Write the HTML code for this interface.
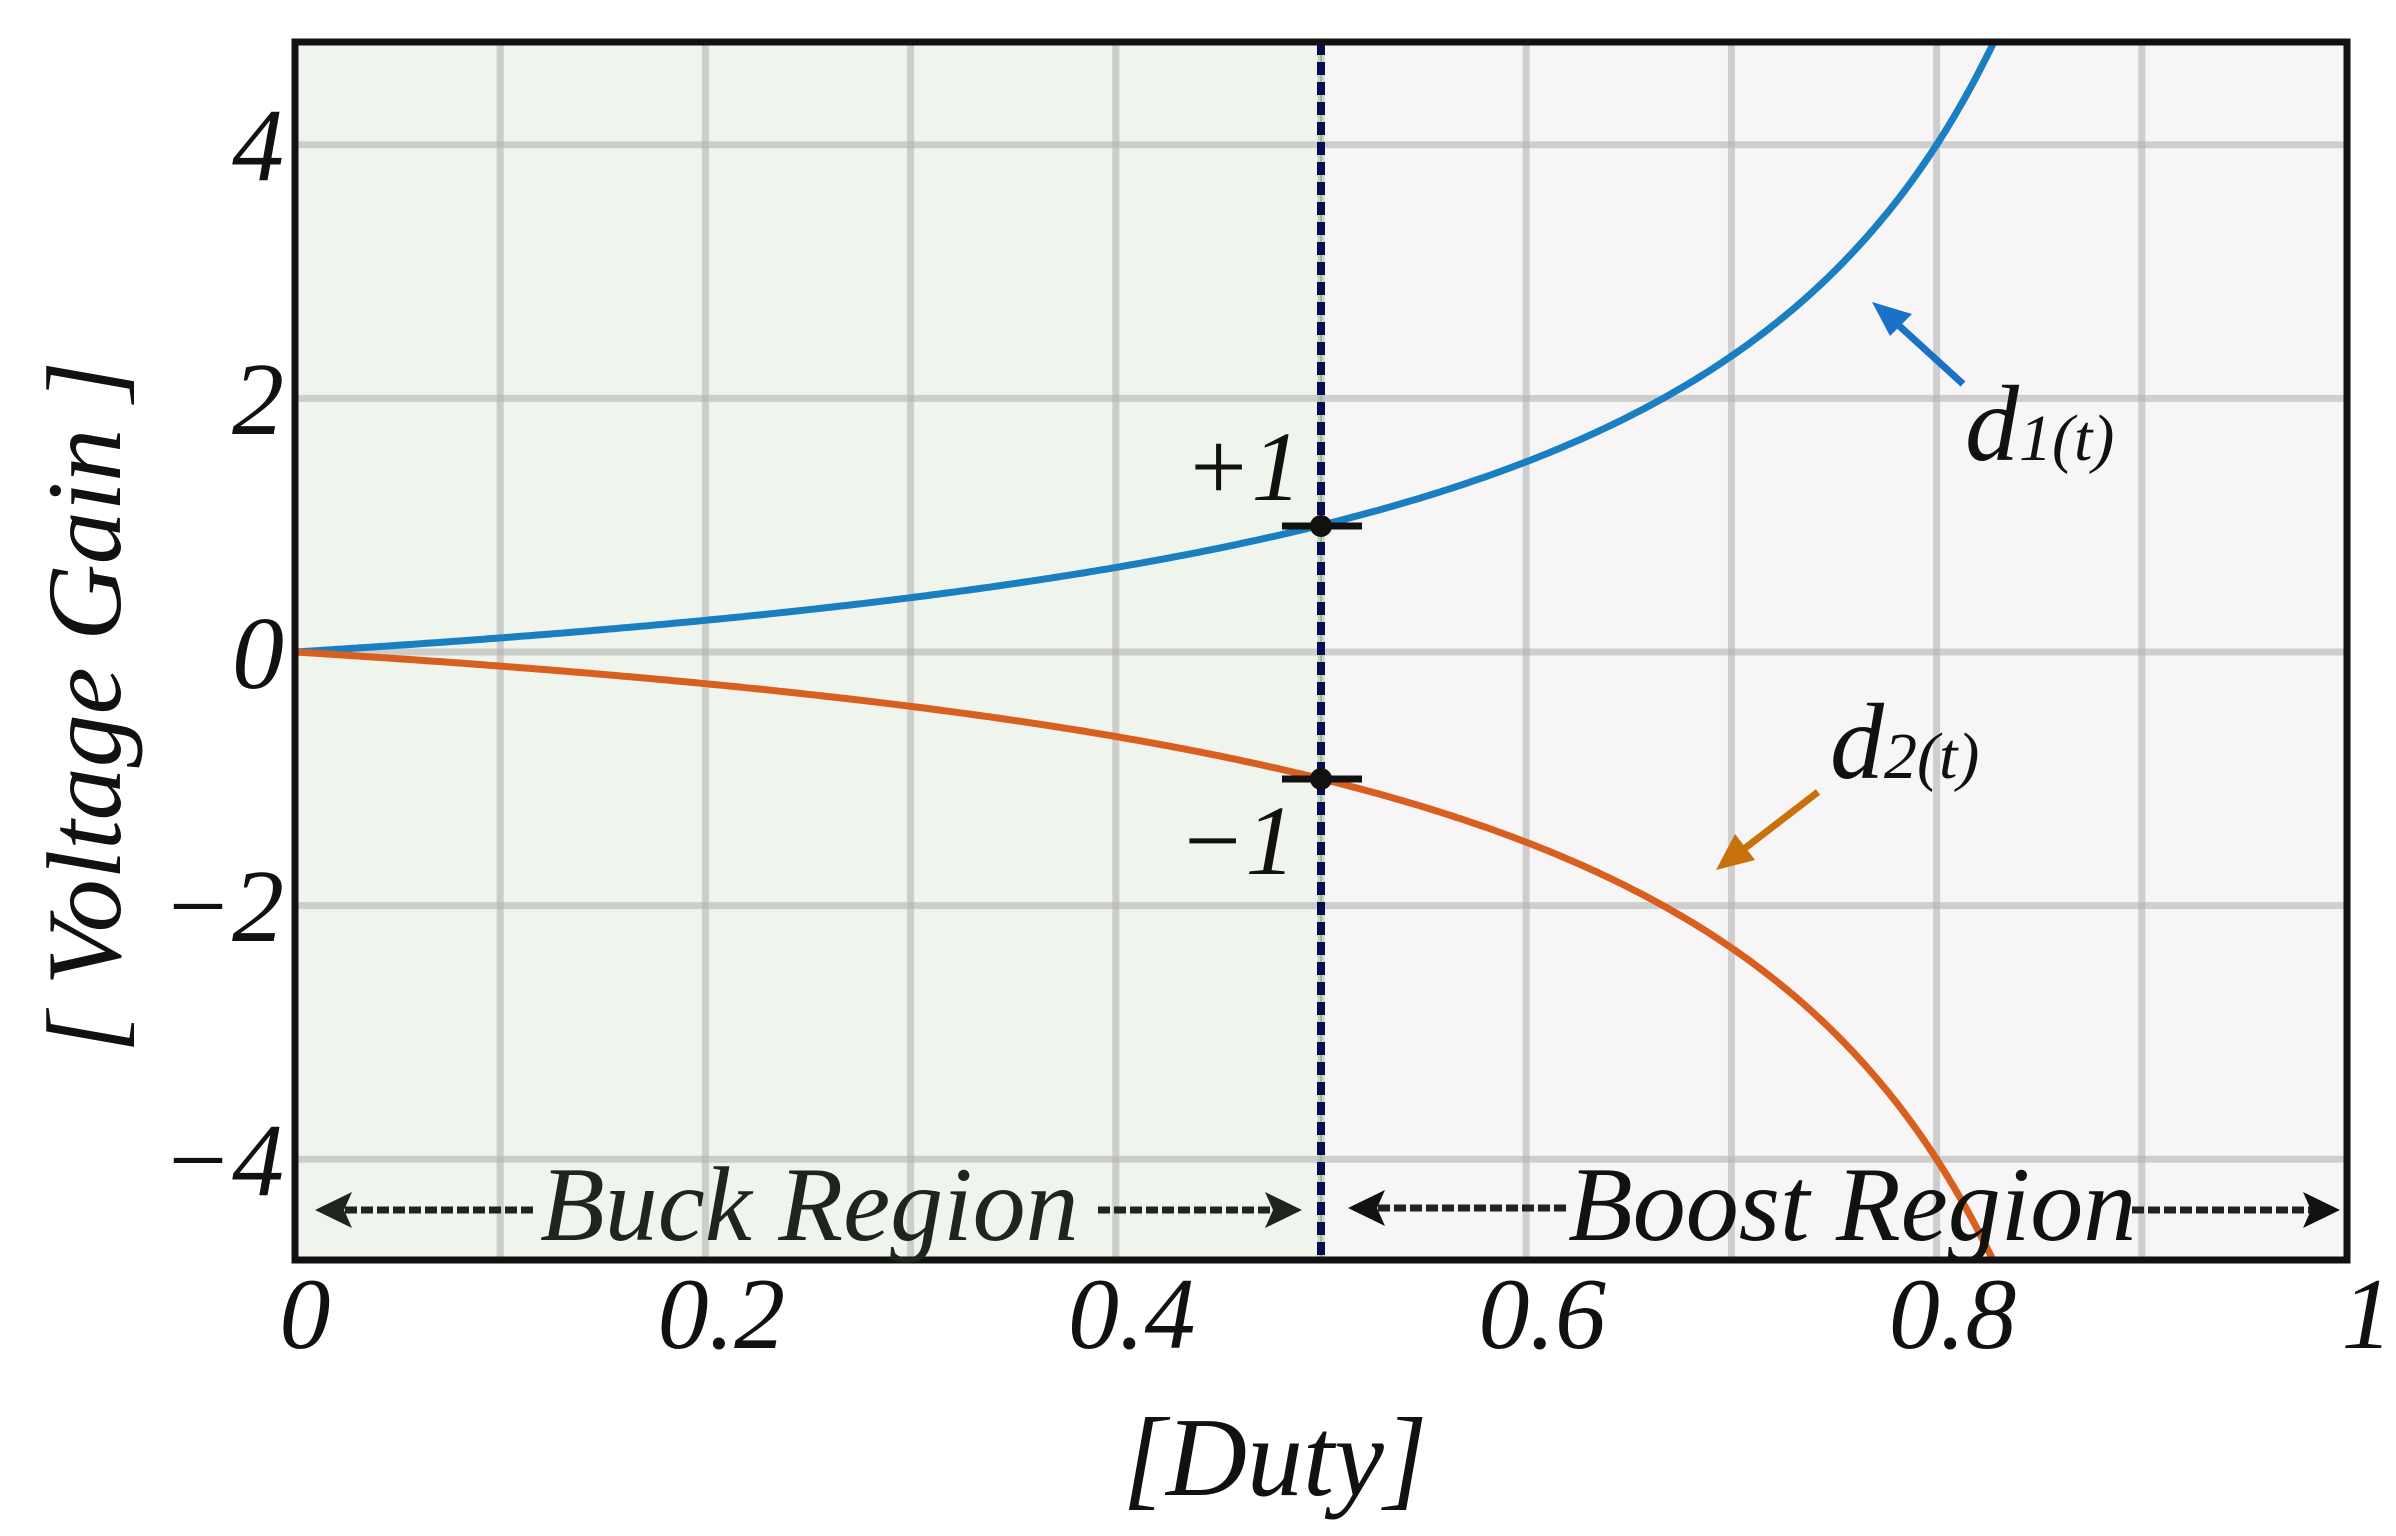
<!DOCTYPE html>
<html><head><meta charset="utf-8"><style>
html,body{margin:0;padding:0;background:#fff}
svg{display:block}
text{font-family:"Liberation Serif",serif;font-style:italic}
</style></head><body>
<svg id="s" width="2396" height="1536" viewBox="0 0 2396 1536" xmlns="http://www.w3.org/2000/svg">
<defs>
<clipPath id="c"><rect x="295" y="42" width="2052" height="1218"/></clipPath>
</defs>
<rect x="295" y="42" width="1026" height="1218" fill="#eff5ec"/>
<rect x="1321" y="42" width="1026" height="1218" fill="#f8f5f6"/>
<g id="grid" stroke="#b4b4b4" stroke-opacity="0.6" stroke-width="7"></g>
<g clip-path="url(#c)">
<path id="p1" fill="none" stroke="#1a7fc0" stroke-width="7"/>
<path id="p2" fill="none" stroke="#d95f20" stroke-width="7"/>
</g>
<line x1="1321" y1="42" x2="1321" y2="1260" stroke="#7fcf7f" stroke-width="2"/>
<line x1="1321" y1="42" x2="1321" y2="1260" stroke="#0b0b55" stroke-width="8" stroke-dasharray="13 7"/>
<rect x="295" y="42" width="2052" height="1218" fill="none" stroke="#111" stroke-width="7"/>
<line x1="1282" y1="526" x2="1362" y2="526" stroke="#111" stroke-width="7"/>
<line x1="1282" y1="779" x2="1362" y2="779" stroke="#111" stroke-width="7"/>
<circle cx="1321" cy="526" r="11" fill="#111"/>
<circle cx="1321" cy="779" r="11" fill="#111"/>
<text x="1184" y="500" font-size="100" fill="#111">+1</text>
<text x="1178" y="874" font-size="100" fill="#111">−1</text>
<text x="1965" y="460" font-size="108" fill="#111">d<tspan font-size="66">1(t)</tspan></text>
<text x="1830" y="778" font-size="108" fill="#111">d<tspan font-size="66">2(t)</tspan></text>
<line x1="1963" y1="384" x2="1895" y2="322" stroke="#1a72c8" stroke-width="7"/>
<polygon points="1872,302 1912,314 1890,336" fill="#1a72c8"/>
<line x1="1818" y1="792" x2="1740" y2="852" stroke="#c8700a" stroke-width="7"/>
<polygon points="1716,870 1735,834 1755,860" fill="#c8700a"/>
<g stroke="#1e251e" stroke-width="7" stroke-dasharray="12 4" fill="none">
<line x1="345" y1="1210" x2="535" y2="1210"/>
<line x1="1098" y1="1210" x2="1272" y2="1210"/>
<line x1="1378" y1="1208" x2="1566" y2="1208"/>
<line x1="2132" y1="1210" x2="2312" y2="1210"/>
</g>
<polygon points="315,1210 352,1192 344,1210 352,1228" fill="#1e251e"/>
<polygon points="1302,1210 1265,1192 1273,1210 1265,1228" fill="#1e251e"/>
<polygon points="1348,1208 1385,1190 1377,1208 1385,1226" fill="#111"/>
<polygon points="2340,1210 2303,1192 2311,1210 2303,1228" fill="#111"/>
<text x="540" y="1240" font-size="106" fill="#1e251e">Buck Region</text>
<text x="1568" y="1240" font-size="106" fill="#111">Boost Region</text>
<g font-size="102" fill="#111" text-anchor="middle" id="xt"></g>
<g font-size="104" fill="#111" text-anchor="end">
<text x="284" y="180">4</text>
<text x="284" y="434">2</text>
<text x="284" y="688">0</text>
<text x="284" y="941">−2</text>
<text x="284" y="1195">−4</text>
</g>
<text x="1275" y="1495" font-size="112" fill="#111" text-anchor="middle">[Duty]</text>
<text transform="translate(120,707) rotate(-90)" font-size="106" fill="#111" text-anchor="middle">[ Voltage Gain ]</text>
</svg>
<script>
var X=function(d){return 295+d*2052},Y=function(v){return 652-v*126.8};
var g=document.getElementById('grid'),ns='http://www.w3.org/2000/svg';
for(var i=1;i<10;i++){var l=document.createElementNS(ns,'line');l.setAttribute('x1',X(i/10));l.setAttribute('x2',X(i/10));l.setAttribute('y1',42);l.setAttribute('y2',1260);g.appendChild(l);}
[4,2,0,-2,-4].forEach(function(v){var l=document.createElementNS(ns,'line');l.setAttribute('x1',295);l.setAttribute('x2',2347);l.setAttribute('y1',Y(v));l.setAttribute('y2',Y(v));g.appendChild(l);});
var a='',b='';for(var d=0;d<=0.86;d+=0.002){var v=d/(1-d);a+=(d?'L':'M')+X(d).toFixed(1)+','+Y(v).toFixed(1);b+=(d?'L':'M')+X(d).toFixed(1)+','+Y(-v).toFixed(1);}
document.getElementById('p1').setAttribute('d',a);document.getElementById('p2').setAttribute('d',b);
var xt=document.getElementById('xt');[['0',0],['0.2',.2],['0.4',.4],['0.6',.6],['0.8',.8],['1',1]].forEach(function(t){var e=document.createElementNS(ns,'text');e.setAttribute('x',X(t[1])+(t[1]==1?4:0)+(t[1]==0?10:16));e.setAttribute('y',1348);e.textContent=t[0];xt.appendChild(e);});
</script>
</body></html>
